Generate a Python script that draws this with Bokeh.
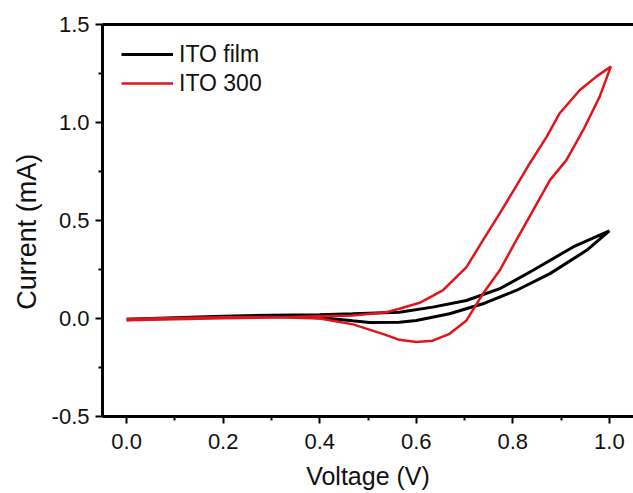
from bokeh.plotting import figure
from bokeh.models import LinearAxis, FixedTicker, PrintfTickFormatter, Range1d, Legend, LegendItem
from bokeh.embed import file_html
from bokeh.resources import INLINE

# ---- data ----
film_fwd_v = [0.0, 0.1, 0.2, 0.3, 0.4, 0.468, 0.565, 0.634, 0.704, 0.773, 0.842, 0.925, 1.0]
film_fwd_i = [-0.004, 0.004, 0.011, 0.017, 0.019, 0.024, 0.032, 0.058, 0.092, 0.152, 0.246, 0.365, 0.447]
film_rev_v = [1.0, 0.953, 0.877, 0.807, 0.738, 0.669, 0.600, 0.565, 0.503, 0.468, 0.42, 0.35, 0.2, 0.1, 0.0]
film_rev_i = [0.447, 0.348, 0.229, 0.143, 0.075, 0.024, -0.010, -0.019, -0.020, -0.012, 0.0, 0.010, 0.008, 0.002, -0.006]

ito300_fwd_v = [0.0, 0.1, 0.2, 0.3, 0.4, 0.468, 0.538, 0.565, 0.607, 0.655, 0.704, 0.738, 0.773,
                0.804, 0.835, 0.870, 0.897, 0.939, 0.973, 1.003]
ito300_fwd_i = [-0.009, -0.004, 0.001, 0.005, 0.012, 0.015, 0.032, 0.050, 0.080, 0.143, 0.262, 0.399, 0.536,
                0.663, 0.791, 0.927, 1.047, 1.166, 1.234, 1.285]
ito300_rev_v = [1.003, 0.980, 0.946, 0.911, 0.877, 0.842, 0.807, 0.773, 0.738, 0.704, 0.669, 0.634,
                0.600, 0.565, 0.538, 0.469, 0.4, 0.3, 0.2, 0.1, 0.0]
ito300_rev_i = [1.285, 1.132, 0.962, 0.808, 0.706, 0.552, 0.399, 0.246, 0.126, -0.010, -0.078, -0.113,
                -0.120, -0.109, -0.085, -0.030, 0.000, 0.008, 0.006, 0.003, -0.002]

series_names = ["ITO film", "ITO 300"]
x_ticks = [0.0, 0.2, 0.4, 0.6, 0.8, 1.0]
x_minor = [0.1, 0.3, 0.5, 0.7, 0.9]
y_ticks = [-0.5, 0.0, 0.5, 1.0, 1.5]
y_minor = [-0.25, 0.25, 0.75, 1.25]

FONT = "Liberation Sans"

p = figure(width=633, height=493, output_backend="svg", toolbar_location=None,
           x_range=Range1d(-0.05, 1.05), y_range=Range1d(-0.5, 1.5),
           min_border_left=102, min_border_right=0, min_border_top=24, min_border_bottom=77)
p.outline_line_color = None
p.grid.visible = False
p.background_fill_color = "white"
p.border_fill_color = "white"

r1 = p.line(film_fwd_v + film_rev_v, film_fwd_i + film_rev_i, line_color="black", line_width=3)
r2 = p.line(ito300_fwd_v + ito300_rev_v, ito300_fwd_i + ito300_rev_i, line_color="#e0141a", line_width=2.5)

for ax in (p.xaxis[0], p.yaxis[0]):
    ax.axis_line_width = 3
    ax.axis_line_color = "black"
    ax.major_tick_line_width = 2
    ax.minor_tick_line_width = 2
    ax.major_tick_in = 0
    ax.major_tick_out = 7
    ax.minor_tick_in = 0
    ax.minor_tick_out = 4
    ax.major_label_text_font = FONT
    ax.major_label_text_font_size = "22px"
    ax.major_label_text_color = "#111111"
    ax.axis_label_text_font = FONT
    ax.axis_label_text_font_style = "normal"
    ax.axis_label_text_color = "#111111"
    ax.formatter = PrintfTickFormatter(format="%.1f")

p.xaxis[0].ticker = FixedTicker(ticks=x_ticks, minor_ticks=x_minor)
p.yaxis[0].ticker = FixedTicker(ticks=y_ticks, minor_ticks=y_minor)
p.xaxis[0].axis_label = "Voltage (V)"
p.yaxis[0].axis_label = "Current (mA)" + "\u00a0" * 3
p.xaxis[0].axis_label_text_font_size = "25px"
p.yaxis[0].axis_label_text_font_size = "27px"
p.xaxis[0].major_label_standoff = 10
p.yaxis[0].major_label_standoff = 6
p.xaxis[0].axis_label_standoff = 10
p.yaxis[0].axis_label_standoff = 7

top = LinearAxis(ticker=FixedTicker(ticks=[]), axis_line_width=3, axis_line_color="black",
                 major_tick_in=0, major_tick_out=0, minor_tick_in=0, minor_tick_out=0,
                 major_label_text_font_size="0px")
p.add_layout(top, "above")

legend = Legend(items=[LegendItem(label=series_names[0], renderers=[r1]),
                       LegendItem(label=series_names[1], renderers=[r2])],
                location="top_left", border_line_color=None, background_fill_alpha=0,
                glyph_width=52, glyph_height=28, label_height=28, label_standoff=6,
                spacing=1, padding=0, margin=0,
                label_text_font=FONT, label_text_font_size="23px", label_text_color="#111111")
p.add_layout(legend, "center")
legend.location = (19, 319)

open("out.html", "w").write(file_html(p, INLINE))
